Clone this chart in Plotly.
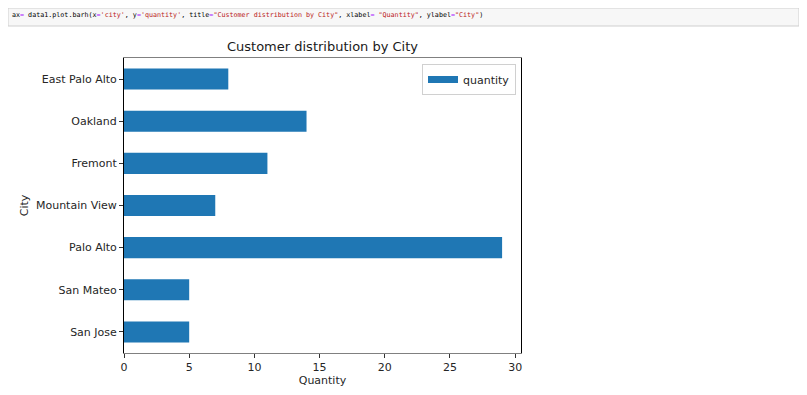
import plotly.graph_objects as go

cities = ["San Jose", "San Mateo", "Palo Alto", "Mountain View", "Fremont", "Oakland", "East Palo Alto"]
quantity = [5, 5, 29, 7, 11, 14, 8]
x_ticks = [0, 5, 10, 15, 20, 25, 30]

BLUE = "#1f77b4"
FONT = "DejaVu Sans"

# page has an 8px body margin on every side, so the figure is drawn 8px in
W, H = 791, 379
L, R, T, B = 116, 513, 50, 345  # plot area in figure pixels
PW, PH = R - L, B - T


def px(x):
    return (x - L) / PW


def py(y):
    return (B - y) / PH


fig = go.Figure()
fig.add_trace(go.Bar(
    x=quantity, y=cities, orientation="h", width=0.5,
    marker=dict(color=BLUE, line=dict(width=0)),
    name="quantity", showlegend=False,
))
fig.add_trace(go.Scatter(
    x=[None], y=[None], mode="lines", line=dict(color=BLUE, width=7),
    name="quantity", showlegend=True, hoverinfo="skip",
))

P = "<span style='color:#aa22ff'>=</span>"
S = lambda s: "<span style='color:#ba2121'>" + s + "</span>"
code_html = (
    "ax" + P + " data1.plot.barh(x" + P + S("'city'") + ", y" + P + S("'quantity'")
    + ", title" + P + S("\"Customer distribution by City\"") + ", xlabel" + P + " "
    + S("\"Quantity\"") + ", ylabel" + P + S("\"City\"") + ")"
)

fig.update_layout(
    width=W, height=H,
    margin=dict(l=L, r=W - R, t=T, b=H - B, autoexpand=False),
    paper_bgcolor="white", plot_bgcolor="white",
    font=dict(family=FONT, size=11, color="#262626"),
    title=dict(text="Customer distribution by City", x=(L + R) / 2 / W, xanchor="center",
               y=1 - 38 / H, yanchor="middle", font=dict(size=13, color="#1a1a1a")),
    legend=dict(x=px(508), y=py(56), xanchor="right", yanchor="top",
                bordercolor="#d0d0d0", borderwidth=1, bgcolor="white",
                font=dict(size=11), itemwidth=30),
    shapes=[dict(type="rect", xref="paper", yref="paper",
                 x0=px(0), x1=px(W), y0=py(18), y1=py(0),
                 fillcolor="#f7f7f7", line=dict(color="#cfcfcf", width=1), layer="below")],
    annotations=[dict(text=code_html, xref="paper", yref="paper",
                      x=px(2), y=py(7.5), xanchor="left", yanchor="middle",
                      showarrow=False, font=dict(family="DejaVu Sans Mono", size=6.7, color="#000000"))],
)

fig.update_xaxes(
    range=[0, 30.45], tickvals=x_ticks, ticktext=[str(v) for v in x_ticks],
    showgrid=False, zeroline=False, showline=True, linecolor="#808080", linewidth=1, mirror=True,
    ticks="outside", ticklen=4, tickcolor="#333", tickwidth=1, automargin=False,
    title=dict(text="Quantity", font=dict(size=11), standoff=3),
    tickfont=dict(size=11),
)
fig.update_yaxes(
    categoryorder="array", categoryarray=cities, range=[-0.5, 6.5],
    showgrid=False, zeroline=False, showline=True, linecolor="#000000", linewidth=1, mirror=True,
    ticks="outside", ticklen=4, tickcolor="#333", tickwidth=1, automargin=False,
    title=dict(text="City", font=dict(size=11), standoff=5),
    tickfont=dict(size=11),
)

fig.write_html("out.html")
